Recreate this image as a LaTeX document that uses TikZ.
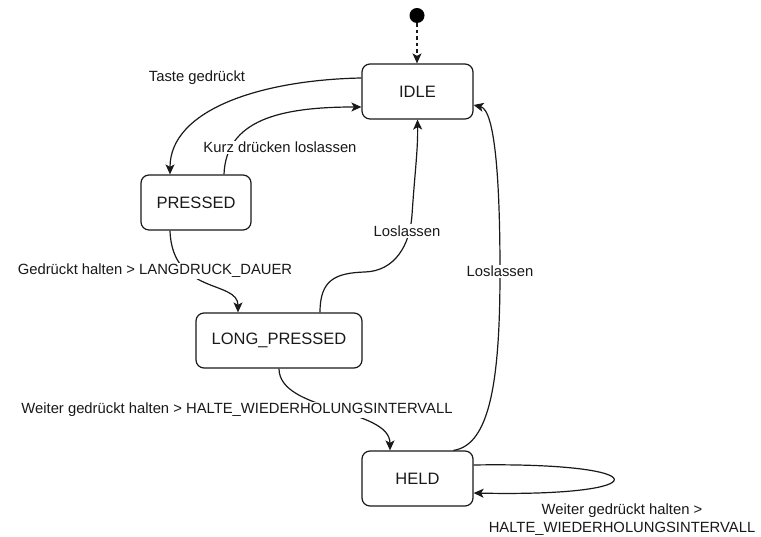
\documentclass[tikz,border=0pt]{standalone}
\usepackage{fontspec}
\setmainfont{Liberation Sans}
\usetikzlibrary{arrows.meta}
\begin{document}
\begin{tikzpicture}[x=1pt,y=1pt,
  state/.style={draw=black!90, line width=1.2pt, rounded corners=8pt,
    minimum height=55pt, inner sep=0pt, text=black!90,
    font=\fontsize{16.5}{19}\selectfont},
  trans/.style={draw=black!90, line width=1.2pt,
    -{Stealth[length=10pt,width=9pt,inset=2.5pt]}},
  lbl/.style={fill=white, inner sep=1.5pt, text=black!90,
    font=\fontsize{14.8}{18.5}\selectfont},
  start/.style={circle, fill=black, minimum size=15pt, inner sep=0pt}]
\useasboundingbox (0,0) rectangle (761,537);

% states
\node[start] (init) at (417,521.5) {};
\node[state, minimum width=111pt] (idle)    at (417.5,445.5) {IDLE};
\node[state, minimum width=110pt] (pressed) at (196,334.5)   {PRESSED};
\node[state, minimum width=166pt] (lp)      at (279,196.5)   {LONG\_PRESSED};
\node[state, minimum width=111pt] (held)    at (417.5,58.5)  {HELD};

% initial transition
\draw[trans, dash pattern=on 3.5pt off 3pt] (init) -- (init |- idle.north);

% transitions
\draw[trans] ([yshift=13.5]idle.west) .. controls (260,457) and (170,427) .. ([xshift=-26]pressed.north);
\draw[trans] ([xshift=28]pressed.north) .. controls (226,417) and (280,430) .. ([yshift=-15.5]idle.west);
\draw[trans] ([xshift=-26]pressed.south) .. controls (172,242) and (238,257) .. ([xshift=-41]lp.north);
\draw[trans] ([xshift=41]lp.north) .. controls (320,257) and (335,264) .. (365,265)
  .. controls (395,266) and (410,292) .. (412,322)
  .. controls (415,367) and (418,387) .. (idle.south);
\draw[trans] ([xshift=36]held.north) .. controls (490,92) and (500,157) .. (500,265)
  .. controls (500,357) and (495,427) .. ([yshift=-13.5]idle.east);
\draw[trans] (lp.south) .. controls (279,125) and (390,129) .. ([xshift=-27.5]held.north);
\draw[trans] ([yshift=13.5]held.east) .. controls (660,75) and (660,40) .. ([yshift=-14.5]held.east);

% transition labels
\node[lbl] (l1) at (197,459)   {Taste gedrückt};
\node[lbl] (l2) at (280,389.5) {Kurz drücken loslassen};
\node[lbl] (l3) at (155,266)   {Gedrückt halten > LANGDRUCK\_DAUER};
\node[lbl] (l4) at (407,306)   {Loslassen};
\node[lbl] (l5) at (500,265.5) {Loslassen};
\node[lbl] (l6) at (237,127)   {Weiter gedrückt halten > HALTE\_WIEDERHOLUNGSINTERVALL};
\node[lbl, align=center] (l7) at (622,17.5) {Weiter gedrückt halten >\\HALTE\_WIEDERHOLUNGSINTERVALL};
\end{tikzpicture}
\end{document}
